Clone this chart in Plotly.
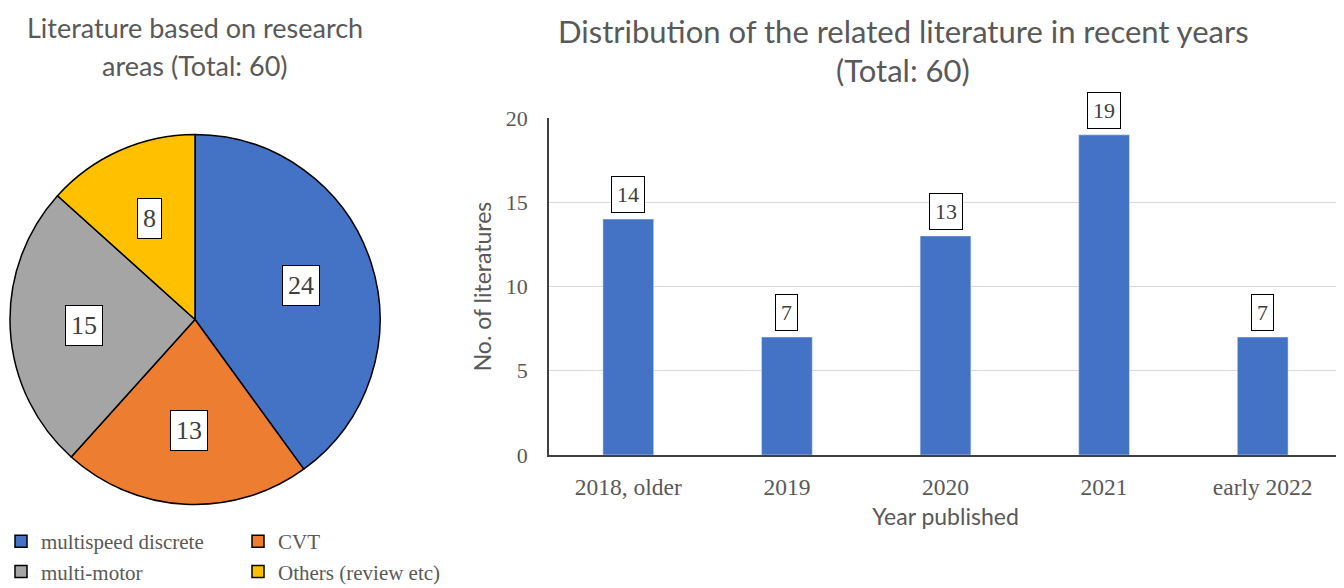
import math
import plotly.graph_objects as go

# ---------------- data ----------------
pie_labels = ["multispeed discrete", "CVT", "multi-motor", "Others (review etc)"]
pie_values = [24, 13, 15, 8]
pie_colors = ["#4472C4", "#ED7D31", "#A5A5A5", "#FFC000"]
legend_columns = [0, 1, 0, 1]  # column of each pie category in the legend

years = ["2018, older", "2019", "2020", "2021", "early 2022"]
counts = [14, 7, 13, 19, 7]

pie_title = ["Literature based on research", "areas (Total: 60)"]
bar_title = ["Distribution of the related literature in recent years", "(Total: 60)"]

# ---------------- layout helpers ----------------
PAGE_W, PAGE_H = 1344, 588
OFF = 8                      # default page margin of the html body
W, H = PAGE_W - OFF, PAGE_H - OFF


def xp(px):
    """page pixel -> paper x"""
    return (px - OFF) / W


def yp(py):
    """page pixel -> paper y"""
    return 1 - (py - OFF) / H


GREY = "#595959"
SERIF = "Liberation Serif"

fig = go.Figure()

# pie
pie_left, pie_right, pie_top, pie_bottom = 10, 380, 134, 505
fig.add_trace(go.Pie(
    labels=pie_labels, values=pie_values, sort=False, direction="clockwise",
    rotation=0, marker=dict(colors=pie_colors, line=dict(color="black", width=1.5)),
    textinfo="none", hoverinfo="label+value",
    domain=dict(x=[max(0, xp(pie_left)), xp(pie_right)], y=[yp(pie_bottom), yp(pie_top)]),
    showlegend=False,
))

# bars
fig.add_trace(go.Bar(
    x=years, y=counts, marker=dict(color="#4472C4"), width=0.32,
    showlegend=False, xaxis="x", yaxis="y",
))

# legend entries for the pie categories (two columns, as in the reference)
order = sorted(range(len(pie_labels)), key=lambda i: (legend_columns[i], i))
for i in order:
    fig.add_trace(go.Scatter(
        x=[None], y=[None], mode="markers", name=pie_labels[i],
        legendgroup="col%d" % legend_columns[i],
        marker=dict(symbol="square", size=12, color=pie_colors[i],
                    line=dict(color="black", width=1.5)),
        hoverinfo="skip",
    ))

annotations = []
# pie value labels (positions derived from the data angles)
cx = (pie_left + pie_right) / 2
cy = (pie_top + pie_bottom) / 2
r = (pie_right - pie_left) / 2
total = sum(pie_values)
acc = 0
for v in pie_values:
    mid = (acc + v / 2) / total * 2 * math.pi
    acc += v
    px = cx + 0.6 * r * math.sin(mid)
    py = cy - 0.6 * r * math.cos(mid)
    annotations.append(dict(
        x=xp(px), y=yp(py), xref="paper", yref="paper", text=str(v), showarrow=False,
        xanchor="center", yanchor="middle",
        font=dict(family=SERIF, size=26, color="#404040"),
        bgcolor="white", bordercolor="black", borderwidth=1, borderpad=5,
    ))

# bar value labels (category index on the category axis)
for i, v in enumerate(counts):
    annotations.append(dict(
        x=i, y=v, xref="x", yref="y", text=str(v), showarrow=False,
        xanchor="center", yanchor="bottom", yshift=6,
        font=dict(family=SERIF, size=22, color="#404040"),
        bgcolor="white", bordercolor="black", borderwidth=1, borderpad=5,
    ))

# titles
for i, line in enumerate(pie_title):
    annotations.append(dict(x=xp(195), y=yp(27 + 38 * i), xref="paper", yref="paper",
                            xanchor="center", yanchor="middle", text=line, showarrow=False,
                            font=dict(family="Lato", size=27, color=GREY)))
for i, line in enumerate(bar_title):
    annotations.append(dict(x=xp(903), y=yp(31 + 39 * i), xref="paper", yref="paper",
                            xanchor="center", yanchor="middle", text=line, showarrow=False,
                            font=dict(family="Lato", size=31, color=GREY)))

fig.update_layout(
    width=W, height=H,
    margin=dict(l=0, r=0, t=0, b=0, autoexpand=False),
    paper_bgcolor="white", plot_bgcolor="white",
    annotations=annotations,
    xaxis=dict(
        domain=[xp(549), xp(1342)], type="category", range=[-0.5, 4.5], automargin=False,
        showline=True, linecolor="#404040", linewidth=1.5,
        ticks="outside", ticklen=10, tickcolor="rgba(0,0,0,0)",
        tickfont=dict(family=SERIF, size=23.5, color=GREY),
        title=dict(text="Year published", font=dict(family="Lato", size=23, color=GREY),
                   standoff=10),
        showgrid=False, zeroline=False,
    ),
    yaxis=dict(
        domain=[yp(455), yp(118)], range=[0, 20], tickvals=[0, 5, 10, 15, 20], automargin=False,
        showline=True, linecolor="#404040", linewidth=1.5,
        ticks="outside", ticklen=15, tickcolor="rgba(0,0,0,0)",
        tickfont=dict(family=SERIF, size=22, color=GREY),
        showgrid=True, gridcolor="#D9D9D9", gridwidth=1.3, zeroline=False,
        title=dict(text="No. of literatures", font=dict(family="Lato", size=23, color=GREY),
                   standoff=8),
    ),
    legend=dict(
        orientation="h", traceorder="grouped", tracegroupgap=0,
        x=xp(1), xanchor="left", y=yp(521), yanchor="top",
        entrywidth=192, font=dict(family=SERIF, size=21, color=GREY),
        bgcolor="rgba(0,0,0,0)",
    ),
)

fig.write_html("out.html")
